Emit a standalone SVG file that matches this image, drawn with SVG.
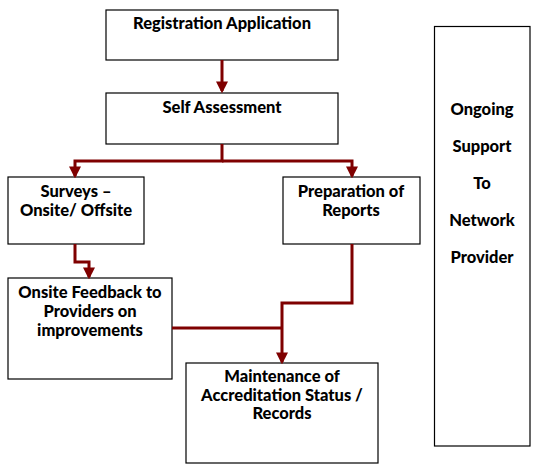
<svg xmlns="http://www.w3.org/2000/svg" width="540" height="472" viewBox="0 0 540 472">
<defs>
<style>
.box{fill:#fff;stroke:#000;stroke-width:1.2}
.t{font-family:Lato,"Open Sans","Liberation Sans",sans-serif;font-weight:900;font-size:16.5px;fill:#000;text-anchor:middle}
.c{fill:none;stroke:#7f0000;stroke-width:3;stroke-linejoin:miter}
</style>
<marker id="ah" markerWidth="4" markerHeight="4" refX="3.2" refY="2" orient="auto" markerUnits="strokeWidth">
<path d="M0,0 L4,2 L0,4 z" fill="#7f0000"/>
</marker>
</defs>
<rect width="540" height="472" fill="#fff"/>
<g id="n-registration">
<rect class="box" x="106" y="10" width="232" height="50"/>
<text class="t" x="222" y="29">Registration Application</text>
</g>
<g id="n-self">
<rect class="box" x="106" y="93" width="232" height="51"/>
<text class="t" x="222" y="113">Self Assessment</text>
</g>
<g id="n-surveys">
<rect class="box" x="8" y="177" width="136" height="67"/>
<text class="t" x="76" y="197">Surveys –</text>
<text class="t" x="76" y="216">Onsite/ Offsite</text>
</g>
<g id="n-prep">
<rect class="box" x="283" y="177" width="137" height="67"/>
<text class="t" x="351" y="197">Preparation of</text>
<text class="t" x="351" y="216">Reports</text>
</g>
<g id="n-feedback">
<rect class="box" x="8" y="278" width="164" height="101"/>
<text class="t" x="90" y="298">Onsite Feedback to</text>
<text class="t" x="90" y="317">Providers on</text>
<text class="t" x="90" y="336">improvements</text>
</g>
<g id="n-maint">
<rect class="box" x="186" y="363" width="192" height="100"/>
<text class="t" x="282" y="382">Maintenance of</text>
<text class="t" x="282" y="401">Accreditation Status /</text>
<text class="t" x="282" y="419">Records</text>
</g>
<g id="n-support">
<rect class="box" x="434.5" y="26.5" width="95.5" height="419.5"/>
<text class="t" x="482" y="115">Ongoing</text>
<text class="t" x="482" y="152">Support</text>
<text class="t" x="482" y="189">To</text>
<text class="t" x="482" y="226">Network</text>
<text class="t" x="482" y="263">Provider</text>
</g>
<g id="connectors">
<path class="c" d="M222,60 V91" marker-end="url(#ah)"/>
<path class="c" d="M222,144 V161 H75 V176" marker-end="url(#ah)"/>
<path class="c" d="M222,161 H352 V176" marker-end="url(#ah)"/>
<path class="c" d="M75,244 V262 H89 V277" marker-end="url(#ah)"/>
<path class="c" d="M352,244 V303 H282 V362" marker-end="url(#ah)"/>
<path class="c" d="M172,328 H282"/>
</g>
</svg>
